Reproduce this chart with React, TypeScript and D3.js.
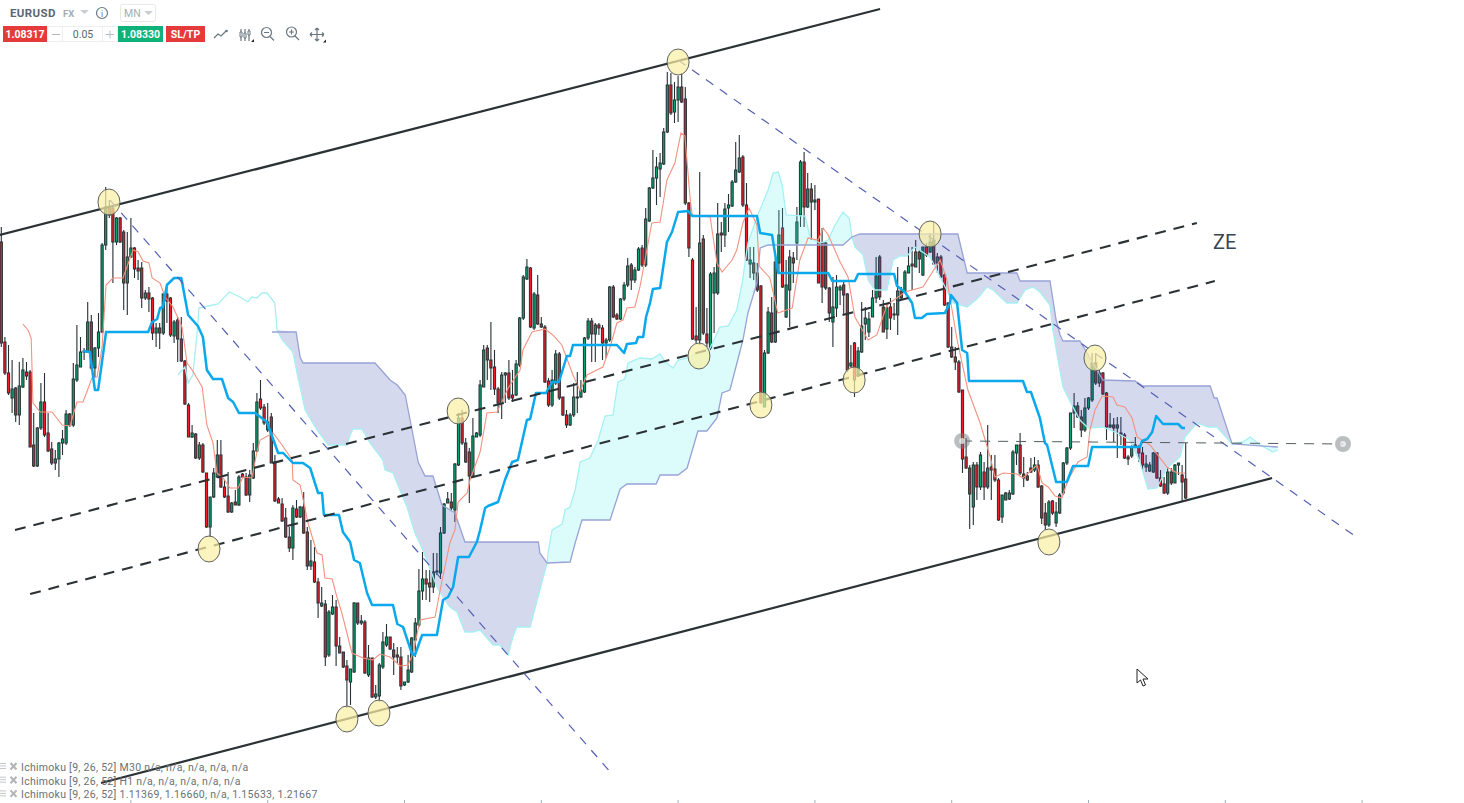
import React from "react";
import * as d3 from "d3";

// EURUSD monthly. The picture has no price axis, so prices are read in chart points
// (one point is about 0.00125), bars are counted from the left edge of the chart.
const opens = [
  558,458,427,402,412,385,413,428,428,355,
  334,372,398,367,351,337,341,357,357,386,
  375,420,433,448,448,478,432,452,468,555,
  593,592,558,582,568,517,543,552,532,532,
  502,507,502,467,472,467,506,502,464,480,
  461,439,395,363,366,342,355,327,273,303,
  323,345,313,304,288,298,295,326,323,305,
  322,349,401,393,370,383,338,301,296,282,
  263,252,291,283,293,268,234,238,218,194,
  196,145,186,193,154,148,134,118,128,197,
  177,178,125,142,103,104,133,155,163,150,
  145,143,115,118,128,160,175,209,221,217,
  213,229,227,267,297,298,290,335,382,357,
  348,324,363,365,413,452,440,433,411,397,
  425,427,405,405,435,482,521,532,472,505,
  476,473,419,395,417,446,403,385,375,385,
  403,403,408,462,479,466,475,472,457,460,
  513,485,481,501,515,535,520,530,552,535,
  579,612,622,631,636,668,715,688,700,713,
  701,597,540,464,460,561,466,452,507,507,
  567,565,592,594,618,628,643,595,536,537,
  527,514,393,447,487,458,537,572,483,510,
  542,557,585,638,593,611,598,601,557,557,
  512,478,492,510,515,506,434,457,424,448,
  476,468,483,502,543,493,471,493,485,485,
  509,508,527,536,533,548,525,553,548,560,
  537,543,525,497,453,443,438,410,343,332,
  293,335,313,328,313,333,331,320,283,300,
  301,306,347,355,326,324,332,330,335,314,
  287,275,299,277,287,307,337,352,387,394,
  383,370,392,400,437,417,427,407,373,375,
  372,367,365,343,344,353,353,347,333,329,
  328,347,322,316,307,328,317,335,325,321,
];
const closes = [
  457,427,407,411,385,414,430,424,353,334,
  372,398,365,349,337,341,357,361,386,375,
  421,435,448,449,478,432,452,468,555,593,
  585,558,582,558,517,543,552,531,529,502,
  507,501,467,472,467,506,499,465,478,461,
  439,396,363,367,342,355,328,273,303,327,
  345,313,303,288,297,295,323,323,305,325,
  349,398,392,377,378,337,299,297,279,263,
  252,292,283,293,267,234,239,218,197,197,
  143,188,193,154,147,133,120,131,197,177,
  179,127,142,103,106,135,158,163,151,143,
  143,114,118,130,162,177,209,221,216,213,
  228,228,267,296,301,292,336,382,357,338,
  324,364,367,415,450,440,432,411,397,425,
  427,402,402,436,482,523,533,473,506,476,
  473,418,395,420,446,402,385,375,385,403,
  402,410,462,479,466,475,472,457,460,513,
  483,481,501,515,534,520,530,551,535,581,
  612,622,633,637,668,715,687,700,713,698,
  597,552,461,460,557,467,457,526,527,566,
  565,591,595,618,630,642,595,540,540,527,
  510,397,447,488,458,538,565,513,515,543,
  537,578,638,593,611,598,600,517,513,512,
  487,493,513,513,505,430,437,420,449,474,
  482,481,502,524,503,468,492,482,486,509,
  502,528,534,534,548,541,553,545,558,536,
  543,523,495,453,443,438,408,341,332,306,
  335,313,345,313,332,330,320,280,305,307,
  307,348,355,327,322,320,328,335,313,282,
  275,298,287,288,305,337,352,387,394,383,
  370,392,402,437,417,427,406,373,375,372,
  375,365,342,341,353,355,347,335,336,335,
  347,322,314,307,328,317,335,337,318,302,
];
const highs = [
  573,463,455,440,413,438,442,438,430,387,
  373,417,427,387,358,350,358,370,390,387,
  437,475,463,452,498,485,453,487,557,613,
  600,593,583,583,570,568,582,553,540,538,
  510,513,503,477,477,507,513,503,480,483,
  483,440,397,375,367,358,357,327,303,332,
  360,360,320,328,298,310,325,327,327,330,
  357,407,420,396,397,387,345,303,302,292,
  273,295,300,294,308,273,260,253,222,213,
  200,190,205,200,163,148,140,131,198,197,
  185,180,155,142,115,137,168,176,163,157,
  153,153,118,145,163,182,231,248,230,230,
  247,247,273,297,308,307,337,387,390,362,
  352,382,368,420,455,455,478,450,413,428,
  428,440,430,440,483,525,541,533,508,525,
  483,475,422,430,450,448,403,390,387,417,
  428,420,463,482,482,477,477,475,462,514,
  515,487,502,518,542,537,533,553,555,592,
  613,650,643,647,672,728,727,718,724,727,
  713,598,542,493,628,565,492,528,533,597,
  578,597,606,620,658,665,645,617,553,553,
  537,515,450,493,503,542,590,592,540,550,
  548,593,640,648,627,617,615,601,572,558,
  513,523,525,515,520,507,455,458,453,498,
  493,488,510,543,545,500,497,502,497,533,
  513,530,553,553,560,550,553,557,567,578,
  547,545,528,498,473,453,440,410,362,335,
  338,338,348,338,375,345,345,322,305,308,
  310,350,355,367,343,328,342,343,340,315,
  297,300,300,298,307,338,353,387,407,398,
  390,402,403,447,447,430,428,408,387,382,
  383,383,367,345,355,363,355,353,345,338,
  348,348,330,323,332,332,336,337,335,357,
];
const lows = [
  453,425,405,387,378,375,412,420,353,333,
  333,370,363,348,335,330,323,345,355,373,
  373,418,433,440,448,430,423,443,467,550,
  582,517,555,557,490,485,542,522,520,492,
  500,488,460,453,451,465,477,463,457,438,
  438,395,363,362,341,340,327,272,263,302,
  322,312,302,287,287,295,294,322,304,298,
  321,348,390,375,368,337,298,297,278,262,
  248,240,282,282,266,230,230,217,182,193,
  134,143,185,134,147,132,92,95,127,175,
  175,126,123,102,101,98,131,153,150,125,
  137,110,114,117,127,143,173,200,200,198,
  207,225,221,266,297,290,278,334,355,337,
  297,322,363,363,413,420,410,405,387,381,
  397,400,398,404,433,480,520,472,470,475,
  472,417,393,393,415,400,384,372,374,383,
  387,402,407,460,438,438,465,440,442,458,
  482,480,480,499,513,510,517,529,533,533,
  578,611,595,603,635,667,685,677,678,697,
  595,543,460,457,455,465,453,450,467,505,
  548,553,568,593,617,627,593,539,522,520,
  508,397,393,446,457,457,527,512,482,473,
  517,540,573,573,592,560,590,517,497,510,
  478,453,483,495,485,428,433,403,423,447,
  460,463,483,497,500,468,461,470,480,465,
  500,507,527,510,533,527,524,543,547,535,
  527,522,494,452,442,430,407,327,331,271,
  275,300,310,300,311,300,318,279,277,300,
  300,305,335,325,313,319,327,328,312,276,
  270,273,285,273,286,305,335,350,372,382,
  363,368,390,398,415,413,405,360,372,358,
  342,355,341,335,342,352,338,330,328,328,
  327,321,313,306,305,315,317,325,298,301,
];

type Knot = [number, number];

const kijun: Knot[] = [
  [22.7,449],[24.6,448],[26,410],[26.9,410],[29.1,468],[40.8,468],[41.9,478],[43.3,481],[44.1,492],[44.9,493],
  [46,515],[48,522],[50,522],[51.9,485],[54.6,474],[56,463],[57.1,430],[58.8,421],[61.3,421],[63,402],
  [64.4,398],[66,387],[70.5,387],[73.8,378],[76.9,347],[78.3,347],[81,337],[83.8,337],[85.8,332],[88,307],
  [89.1,307],[89.6,285],[93.8,285],[94.9,268],[96.9,258],[98,240],[99.6,237],[101.6,207],[103,195],[108.8,195],
  [110,176],[111.6,173],[114.1,146],[114.9,145],[116.9,165],[121,165],[122.7,200],[124.1,203],[125.5,213],[126.9,243],
  [129.9,243],[132.1,258],[133,270],[134.4,292],[135.2,294],[138,298],[139.9,320],[141.9,338],[143.5,340],[146,380],
  [146.9,381],[148.5,407],[151.3,407],[153,418],[154.9,418],[157.1,444],[158,444],[158.8,455],[171,455],[173,447],
  [173.8,456],[176.3,457],[176.9,463],[178.3,463],[179.1,483],[180.2,497],[181,511],[183,512],[184.9,558],[186.3,568],
  [188,588],[190.8,589],[191.9,584],[209.9,584],[210.8,567],[214.1,565],[215.8,527],[229.7,527],[230.8,519],[237.1,519],
  [238,526],[248,526],[248.8,514],[251,508],[253,497],[253.8,482],[255.7,482],[257.1,486],[262.1,487],[263.5,497],
  [263.8,505],[265.5,497],[266.9,450],[268.3,447],[268.8,419],[283.8,419],[284.9,408],[286,408],[288.5,382],[289.9,357],
  [290.5,355],[293,318],[296,318],[297.7,334],[301.9,334],[303,353],[316.3,353],[316.9,359],[318.3,361],[319.7,368],
  [320.8,384],[322.7,376],[326.9,376],[328,372],[328.8,372],
];
const tenkan: Knot[] = [
  [6,476],[7.4,470],[8.3,462],[8.8,397],[10.8,388],[14.1,388],[16.9,375],[19.1,374],[21,398],[22.7,398],
  [25.2,422],[26.6,423],[28,453],[29.1,515],[31,522],[33.8,522],[36.6,550],[38,548],[39.4,539],[41,537],
  [41.9,522],[44.1,517],[45.5,503],[47.7,493],[50.2,473],[51.6,437],[53,430],[55.8,413],[57.1,375],[58.8,357],
  [59.9,327],[61.6,322],[63.5,312],[65.8,312],[67.1,323],[69.6,322],[71,348],[71.9,360],[75.5,367],[78,355],
  [80.8,340],[81,320],[83,315],[85.2,277],[87.7,247],[89.1,245],[89.9,222],[91.9,221],[93.3,202],[94.6,187],
  [97.4,147],[100.5,142],[103.2,140],[105.2,146],[108,143],[110.8,134],[113,135],[114.4,147],[116.3,180],[120.5,183],
  [121.9,210],[124.6,257],[126,270],[126.9,298],[129.4,307],[130.2,320],[133,348],[134.9,387],[137.7,388],[140.8,412],
  [144.1,430],[144.9,450],[147.4,468],[151,471],[153.2,465],[155.7,455],[158.8,425],[160.8,409],[162.7,425],[167.1,433],
  [169.1,453],[171,477],[172.7,480],[173.8,492],[176,493],[177.4,513],[178.8,540],[180.7,577],[183,578],[184.9,620],
  [187.1,637],[188.8,667],[189.9,664],[191.3,603],[191.9,585],[194.1,584],[196.9,583],[198.8,537],[200.2,528],[203,540],
  [204.3,550],[206,577],[207.7,592],[209.9,575],[210.5,534],[213.5,522],[215.7,487],[219.7,492],[221.8,540],[224.1,562],
  [226.9,560],[228.3,572],[229.7,565],[233,538],[235.2,523],[237.1,483],[240.8,460],[243.2,465],[246,495],[251,508],
  [256,513],[260.8,540],[262.7,520],[265.5,460],[268.5,410],[271.9,377],[274.7,343],[276,323],[278.3,327],[282.1,326],
  [283.8,322],[287.7,335],[289.1,317],[290.8,313],[292.7,304],[294.6,302],[296.3,320],[299.1,338],[301.6,343],[302.4,370],
  [303.8,390],[305.8,404],[308.8,403],[309.9,395],[312.1,393],[314.1,382],[315.5,363],[319.1,355],[323.8,333],[326.6,327],
  [328.8,327],
];
const spanA: Knot[] = [
  [49.1,425],[51,433],[51.9,417],[53.2,425],[54.4,467],[54.9,492],[58.8,495],[60.2,496],[63.3,508],[66.3,503],
  [68.5,498],[69.6,503],[71,502],[72.4,507],[73.8,507],[76,497],[76.6,470],[78,460],[81,448],[82.4,423],
  [84.4,390],[87.7,370],[90.8,355],[96,355],[96.9,365],[97.7,371],[100.2,371],[102.4,357],[106,340],[106.6,330],
  [108.8,327],[112.7,293],[114.9,267],[117.1,250],[121,213],[123.2,200],[124.6,193],[126.6,188],[128.8,168],[131,168],
  [133,170],[136.6,155],[138.5,155],[140.8,145],[142.1,163],[143.2,173],[146.9,173],[149.6,210],[151.6,237],[151.9,248],
  [153,270],[155.8,276],[156.6,290],[158,293],[159.4,310],[160.8,338],[163.5,342],[165.8,360],[167.7,384],[169.9,385],
  [171.3,418],[173.2,421],[174.1,437],[177.4,442],[180.7,441],[183,446],[184.4,438],[186.6,432],[188,440],[190.5,442],
  [193.3,447],[196.9,452],[199.6,473],[201.9,474],[204.3,490],[205.8,517],[207.4,557],[209.9,583],[213,610],[214.4,627],
  [215.8,628],[216.9,615],[218,585],[223.3,584],[224.7,562],[227.4,557],[229.7,560],[231.6,575],[233.8,588],[235.5,582],
  [236.3,563],[237.1,553],[239.4,545],[240.8,520],[242.7,510],[246,510],[247.7,540],[249.6,544],[251.6,544],[253.8,553],
  [258,543],[261.6,517],[264.4,497],[268.3,493],[271.3,502],[273.8,513],[275.5,510],[279.3,497],[282.1,497],[284.4,510],
  [286.6,513],[288.5,508],[291.3,495],[292.1,470],[293.2,447],[294.9,413],[297.4,395],[299.6,380],[301.9,372],[306,373],
  [309.9,367],[313.5,360],[316.3,338],[318.5,311],[321,312],[323.8,332],[327.4,343],[328.8,363],[332.1,377],[335.2,373],
  [337.7,373],[341.9,356],[344.9,358],[346.9,363],[349.7,355],[353.2,348],[354.6,350],
];
const spanB: Knot[] = [
  [75.2,468],[81.9,468],[83,443],[83.8,437],[103.8,437],[108,420],[110,415],[112.2,405],[114.1,370],[115.8,338],
  [117.7,324],[119.9,324],[122.4,295],[126,287],[128.8,258],[149.2,258],[149.6,247],[151.6,237],[158,238],[159.4,257],
  [161.3,280],[169.1,280],[171.9,311],[173.8,316],[181.9,316],[183,325],[188,325],[190.5,332],[193.5,369],[196,369],
  [198.8,382],[200.2,407],[202.4,410],[206,460],[207.4,487],[209.9,517],[210.8,552],[213,555],[233.8,555],[236.3,563],
  [238.5,566],[265.7,566],[268.3,527],[282.1,527],[283,519],[291.3,519],[293,480],[294.1,465],[294.9,459],[299.6,459],
  [301.6,447],[306,420],[314.9,419],[317.1,414],[335.8,414],[336.9,402],[337.7,402],[341.9,356],[354.6,353],
];
// Bars where the two spans cross, with which span is on top in between
const cloudRegions: { from: number; to: number; bullish: boolean }[] = [
  { from: 76.6, to: 151.6, bullish: false },
  { from: 151.6, to: 236.3, bullish: true },
  { from: 236.3, to: 341.9, bullish: false },
  { from: 341.9, to: 354.6, bullish: true },
];

// Hand drawn objects on the chart
const channelLines: [Knot, Knot][] = [
  [[-0.4,565],[244.1,791]],
  [[27.7,17],[353,322]],
];
const zoneLines: [Knot, Knot][] = [
  [[3.8,270],[332.1,577]],
  [[8,206],[337.1,519]],
];
const fallingLines: [Knot, Knot][] = [
  [[30.2,600],[169.9,25]],
  [[188,740],[376,264]],
];
const measureLine: [Knot, Knot] = [[266.9,359],[372.7,356]];
const touchPoints: Knot[] = [
  [29.9,598],[57.7,251],[96,81],[104.9,87],[126.9,389],[188,738],
  [193.8,444],[211,395],[236.9,420],[258,566],[291,258],[303.8,442],
];
const zoneLabel: Knot = [336.6,551];
const timeTicks = [36,74,112,150,188,226,264,302,340,378];
const legendRows = [
  "Ichimoku [9, 26, 52] M30 n/a, n/a, n/a, n/a, n/a",
  "Ichimoku [9, 26, 52] H1 n/a, n/a, n/a, n/a, n/a",
  "Ichimoku [9, 26, 52] 1.11369, 1.16660, n/a, 1.15633, 1.21667",
];

const WIDTH = 1464;
const HEIGHT = 803;
const FONT = "Roboto, sans-serif";

const x = d3.scaleLinear().domain([0, 329]).range([1.3, 1185.7]);
const y = d3.scaleLinear().domain([0, 800]).range([800, 0]);
const line = d3.line<Knot>().x((d) => x(d[0])).y((d) => y(d[1]));

const Toolbar = () => {
  const icon = { fill: "none", stroke: "#6b7780", strokeWidth: 1.2 };
  return (
    <g fontFamily={FONT}>
      <text x={10} y={17} fontSize={11.5} fontWeight={700} fill="#5b6670" letterSpacing={0.4}>EURUSD</text>
      <text x={63} y={17} fontSize={9.5} fontWeight={700} fill="#a4adb3">FX</text>
      <path d="M80 10h9l-4.5 4z" fill="#c8cdd0" />
      <circle cx={102} cy={13} r={5.5} {...icon} />
      <text x={102} y={16.5} fontSize={9} textAnchor="middle" fill="#6b7780">i</text>
      <rect x={120.5} y={4.5} width={35} height={17} rx={2} fill="#fff" stroke="#e6e8e9" />
      <text x={124} y={17} fontSize={10.5} fill="#a4adb3">MN</text>
      <path d="M144 11h9l-4.5 4z" fill="#c8cdd0" />

      <rect x={3} y={26} width={44} height={16} fill="#e53a3a" />
      <text x={25} y={38} fontSize={10.5} fontWeight={700} textAnchor="middle" fill="#fff">1.08317</text>
      <rect x={47.5} y={26.5} width={70} height={15} fill="#fff" stroke="#eceeef" />
      <rect x={62.5} y={26.5} width={40} height={15} fill="#fff" stroke="#eceeef" />
      <text x={83} y={38} fontSize={10.5} textAnchor="middle" fill="#5b6670">0.05</text>
      <path d="M52 34.5h8" stroke="#b5bbbf" />
      <path d="M106 34.5h8M110 30.5v8" stroke="#b5bbbf" />
      <rect x={118} y={26} width={45} height={16} fill="#0db27a" />
      <text x={140.5} y={38} fontSize={10.5} fontWeight={700} textAnchor="middle" fill="#fff">1.08330</text>
      <rect x={166} y={26} width={39} height={16} fill="#e53a3a" />
      <text x={185.5} y={38} fontSize={10.5} fontWeight={700} textAnchor="middle" fill="#fff">SL/TP</text>

      <path d="M214 38l4-4 3 2 5-5" {...icon} />
      <circle cx={226.5} cy={31} r={1.3} fill="#6b7780" />
      <path d="M241 29v12M245 29v12M249 29v12" {...icon} />
      <path d="M240 32h2v5h-2zM244 33h2v5h-2zM248 31h2v4h-2z" fill="#fff" stroke="#6b7780" />
      <path d="M251 42h3v-3z" fill="#222" />
      <circle cx={266.5} cy={32.5} r={5} {...icon} />
      <path d="M264 32.5h5M270 36.5l4 4" {...icon} />
      <circle cx={291.5} cy={32} r={5} {...icon} />
      <path d="M289 32h5M291.5 29.5v5M295 36l4 4" {...icon} />
      <path d="M310 34.5h14M317 28v13M310 34.5l2-2M310 34.5l2 2M324 34.5l-2-2M324 34.5l-2 2M317 28l-2 2M317 28l2 2M317 41l-2-2M317 41l2-2" {...icon} />
      <path d="M323 42.5h3v-3z" fill="#222" />
    </g>
  );
};

export default function App() {
  const bars = d3.range(opens.length);
  const bandWidth = 2.2;

  const cloudPath = (from: number, to: number) => {
    const top = spanA.filter((d) => d[0] >= from && d[0] <= to);
    const bottom = spanB.filter((d) => d[0] >= from && d[0] <= to).reverse();
    return line([...top, ...bottom]) + "Z";
  };

  return (
    <svg
      width={WIDTH}
      height={HEIGHT}
      viewBox={`0 0 ${WIDTH} ${HEIGHT}`}
      style={{ position: "absolute", left: 0, top: 0, display: "block", background: "#fff" }}
    >
      {/* candles */}
      <g>
        {bars.map((i) => {
          const up = closes[i] >= opens[i];
          const top = y(Math.max(opens[i], closes[i]));
          const bottom = y(Math.min(opens[i], closes[i]));
          return (
            <g key={i}>
              <line x1={x(i)} x2={x(i)} y1={y(highs[i])} y2={y(lows[i])} stroke="#263035" strokeWidth={1.1} />
              <rect
                x={x(i) - bandWidth / 2}
                y={top}
                width={bandWidth}
                height={Math.max(bottom - top, 1)}
                fill={up ? "#06a56c" : "#ee1c25"}
                stroke="#263035"
                strokeWidth={1}
              />
            </g>
          );
        })}
      </g>

      {/* ichimoku cloud */}
      {cloudRegions.map((r) => (
        <path
          key={r.from}
          d={cloudPath(r.from, r.to)}
          fill={r.bullish ? "rgba(80,240,240,0.2)" : "rgba(50,70,170,0.205)"}
        />
      ))}
      <path d={line(spanA) ?? ""} fill="none" stroke="#a6f0f2" strokeWidth={1.3} />
      <path d={line(spanB) ?? ""} fill="none" stroke="#98a2d6" strokeWidth={1.3} />
      <path d={line(tenkan) ?? ""} fill="none" stroke="#f2927f" strokeWidth={1.1} />
      <path d={line(kijun) ?? ""} fill="none" stroke="#0aa8ec" strokeWidth={2.5} strokeLinejoin="round" />

      {/* drawn lines */}
      {channelLines.map((l, i) => (
        <path key={i} d={line(l) ?? ""} stroke="#2b3236" strokeWidth={2.2} fill="none" />
      ))}
      {zoneLines.map((l, i) => (
        <path key={i} d={line(l) ?? ""} stroke="#2b3236" strokeWidth={2.1} strokeDasharray="11 8" fill="none" />
      ))}
      {fallingLines.map((l, i) => (
        <path key={i} d={line(l) ?? ""} stroke="#5460b2" strokeWidth={1.2} strokeDasharray="9 8" fill="none" />
      ))}
      <path d={line(measureLine) ?? ""} stroke="#555c60" strokeWidth={1} strokeDasharray="10 8" fill="none" />
      {measureLine.map((d, i) => (
        <g key={i}>
          <circle cx={x(d[0])} cy={y(d[1])} r={8} fill="rgba(120,125,128,0.5)" />
          <circle cx={x(d[0])} cy={y(d[1])} r={3} fill="rgba(255,255,255,0.65)" />
        </g>
      ))}

      {/* touch markers */}
      {touchPoints.map((d, i) => (
        <ellipse
          key={i}
          cx={x(d[0])}
          cy={y(d[1])}
          rx={11}
          ry={13}
          fill="rgba(250,240,165,0.72)"
          stroke="#5f6360"
          strokeWidth={1}
        />
      ))}

      <text x={x(zoneLabel[0])} y={y(zoneLabel[1])} fontFamily={FONT} fontSize={20} fill="#3a4650">ZE</text>

      <Toolbar />

      {/* indicator legend */}
      <g fontFamily={FONT} fontSize={10.5} fill="#6a7074" letterSpacing={0.28}>
        {legendRows.map((t, i) => {
          const base = 771 + i * 13.7;
          return (
            <g key={t}>
              <path d={`M0 ${base - 7.5}h6M0 ${base - 5}h6M0 ${base - 2.5}h6`} stroke="#c2c6c8" strokeWidth={1} />
              <path d={`M10.5 ${base - 8}l6 6.5M16.5 ${base - 8}l-6 6.5`} stroke="#b0b5b8" strokeWidth={2} />
              <text x={21} y={base}>{t}</text>
            </g>
          );
        })}
      </g>

      {/* time axis, only the tick marks are in view */}
      {timeTicks.map((t) => (
        <line key={t} x1={x(t)} x2={x(t)} y1={800} y2={803} stroke="#9fb0bc" strokeWidth={1} />
      ))}

      {/* mouse pointer */}
      <path
        d="M1137 669v14l3.5-3 2.5 6 2.5-1-2.5-6h5z"
        fill="#fff"
        stroke="#222"
        strokeWidth={1}
        strokeLinejoin="round"
      />
    </svg>
  );
}
